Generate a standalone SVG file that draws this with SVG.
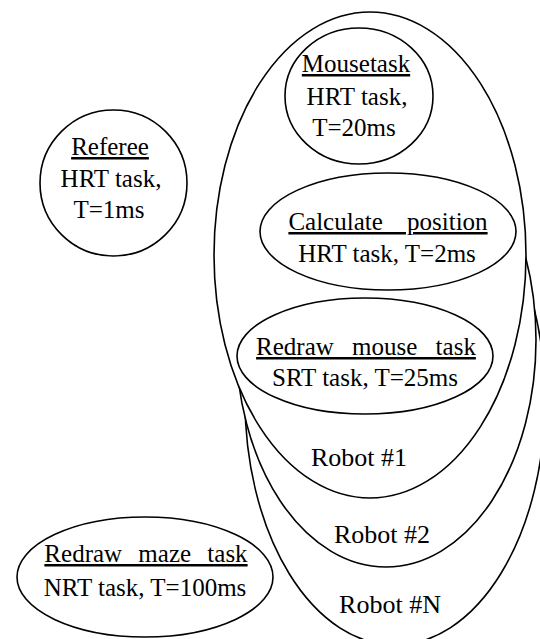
<svg xmlns="http://www.w3.org/2000/svg" width="540" height="639" viewBox="0 0 540 639">
<style>
.s{fill:#fff;stroke:#000;stroke-width:1.6}
text{font-family:"Liberation Serif","Times New Roman",serif;font-size:25px;fill:#000;text-anchor:middle}
.u{text-decoration:underline}
.r{font-size:26px}
</style>
<rect width="540" height="639" fill="#fff"/>
<g id="robotN"><ellipse class="s" cx="395" cy="400" rx="150" ry="245"/><text class="r" x="390" y="613">Robot #N</text></g>
<g id="robot2"><ellipse class="s" cx="386" cy="340" rx="150" ry="227"/><text class="r" x="382" y="543">Robot #2</text></g>
<g id="robot1"><ellipse class="s" cx="370" cy="255" rx="156" ry="243"/><text class="r" x="359" y="466">Robot #1</text></g>
<g id="mousetask"><ellipse class="s" cx="359" cy="96" rx="74" ry="68"/>
<text x="356" y="72" class="u">Mousetask</text><text x="357" y="105">HRT task,</text><text x="354" y="136">T=20ms</text></g>
<g id="calc"><ellipse class="s" cx="388" cy="231.5" rx="128" ry="58.5"/>
<text x="388" y="230" class="u" style="word-spacing:18px">Calculate position</text><text x="387" y="262">HRT task, T=2ms</text></g>
<g id="redrawmouse"><ellipse class="s" cx="365" cy="356" rx="128" ry="58"/>
<text x="366" y="355" class="u" style="word-spacing:12px">Redraw mouse task</text><text x="365" y="386">SRT task, T=25ms</text></g>
<g id="referee"><ellipse class="s" cx="113.5" cy="183" rx="73.5" ry="73"/>
<text x="110" y="155" class="u">Referee</text><text x="111" y="187">HRT task,</text><text x="109" y="218">T=1ms</text></g>
<g id="redrawmaze"><ellipse class="s" cx="145" cy="577" rx="128" ry="60"/>
<text x="146" y="562" class="u" style="word-spacing:10px">Redraw maze task</text><text x="145" y="596">NRT task, T=100ms</text></g>
<g id="connectors"></g>
</svg>
